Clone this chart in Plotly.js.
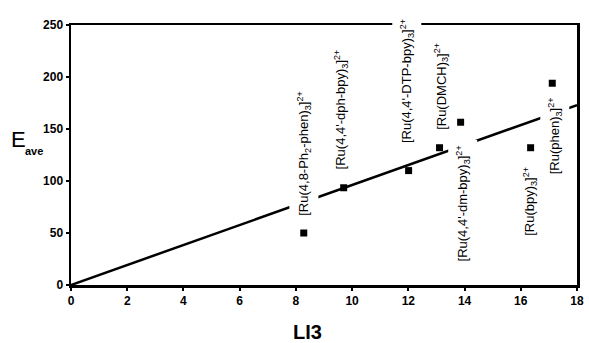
<!DOCTYPE html>
<html>
<head>
<meta charset="utf-8">
<script src="https://cdn.plot.ly/plotly-3.0.1.min.js"></script>
<style>html,body{margin:0;padding:0;background:#fff;}#chart{width:589px;height:343px;}</style>
</head>
<body>
<div id="chart"></div>
<script>
// Data
const complexX = [8.28, 9.70, 12.01, 13.11, 13.86, 16.35, 17.12];
const complexY = [50, 93.5, 110, 132, 156.5, 132, 194];

const fitX = [0, 18];
const fitY = [0, 173];

const labelText = [
  "[Ru(4,8-Ph<sub>2</sub>-phen)<sub>3</sub>]<sup>2+</sup>",
  "[Ru(4,4'-dph-bpy)<sub>3</sub>]<sup>2+</sup>",
  "[Ru(4,4'-DTP-bpy)<sub>3</sub>]<sup>2+</sup>",
  "[Ru(DMCH)<sub>3</sub>]<sup>2+</sup>",
  "[Ru(4,4'-dm-bpy)<sub>3</sub>]<sup>2+</sup>",
  "[Ru(bpy)<sub>3</sub>]<sup>2+</sup>",
  "[Ru(phen)<sub>3</sub>]<sup>2+</sup>"
];
const labelX = [8.3, 9.61, 11.95, 13.18, 13.93, 16.32, 17.22];
const labelY = [126.5, 169, 196, 191, 78, 80.7, 143];

const xTicks = [0, 2, 4, 6, 8, 10, 12, 14, 16, 18];
const yTicks = [0, 50, 100, 150, 200, 250];

const FONT = "Arial, 'Liberation Sans', sans-serif";

const traces = [
  {
    x: fitX, y: fitY, type: 'scatter', mode: 'lines',
    line: {color: '#000', width: 2.5}, hoverinfo: 'skip'
  },
  {
    x: complexX, y: complexY, type: 'scatter', mode: 'markers',
    marker: {symbol: 'square', size: 7, color: '#000'}
  }
];

const annotations = labelText.map((t, i) => ({
  x: labelX[i], y: labelY[i], xref: 'x', yref: 'y',
  text: t, showarrow: false, textangle: -90,
  xanchor: 'center', yanchor: 'middle',
  font: {family: FONT, size: 13, color: '#000'},
  bgcolor: '#fff', borderpad: 5
}));

annotations.push({
  xref: 'paper', yref: 'paper', x: 0, y: 0.5585, xshift: -62.5,
  xanchor: 'left', yanchor: 'middle', showarrow: false,
  text: 'E', font: {family: FONT, size: 22, color: '#000'}
});
annotations.push({
  xref: 'paper', yref: 'paper', x: 0, y: 0.514, xshift: -48,
  xanchor: 'left', yanchor: 'middle', showarrow: false,
  text: 'ave', font: {family: FONT, size: 11, color: '#000', weight: 'bold'}
});
annotations.push({
  xref: 'paper', yref: 'paper', x: 0.467, y: -0.182,
  xanchor: 'center', yanchor: 'middle', showarrow: false,
  text: 'LI3', font: {family: FONT, size: 20, color: '#000', weight: 'bold'}
});

const layout = {
  width: 589, height: 343,
  margin: {l: 70.5, r: 12, t: 25, b: 57.5},
  paper_bgcolor: '#fff', plot_bgcolor: '#fff',
  showlegend: false,
  xaxis: {
    range: [0, 18], tickvals: xTicks, ticktext: xTicks.map(String),
    showgrid: false, zeroline: false,
    showline: true, linecolor: '#000', linewidth: 2.5, mirror: true,
    ticks: 'outside', ticklen: 3, tickwidth: 2, tickcolor: '#000',
    tickfont: {family: FONT, size: 12, color: '#000', weight: 'bold'}
  },
  yaxis: {
    range: [0, 250], tickvals: yTicks, ticktext: yTicks.map(String),
    showgrid: false, zeroline: false,
    showline: true, linecolor: '#000', linewidth: 2.5, mirror: true,
    ticks: 'outside', ticklen: 3, tickwidth: 2, tickcolor: '#000',
    tickfont: {family: FONT, size: 12, color: '#000', weight: 'bold'}
  },
  annotations: annotations
};

Plotly.newPlot('chart', traces, layout, {displayModeBar: false, staticPlot: true});
</script>
</body>
</html>
